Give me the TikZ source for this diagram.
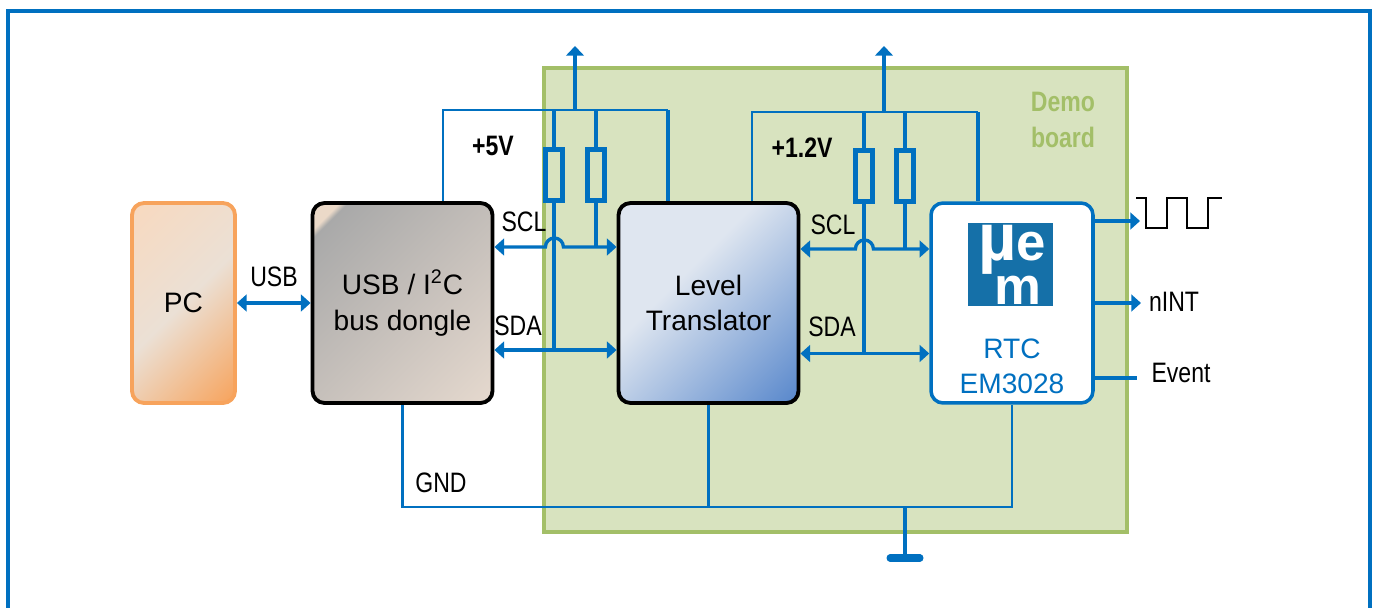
\documentclass[tikz,border=0pt]{standalone}
\usepackage{fontspec}
\setmainfont{Liberation Sans}
\newfontfamily\narrowfont[FakeStretch=0.82]{Liberation Sans}
\usetikzlibrary{arrows.meta, calc}
\definecolor{wireblue}{HTML}{0070C0}
\definecolor{boardfill}{HTML}{D8E3BF}
\definecolor{boardline}{HTML}{A3BF68}
\definecolor{pcline}{HTML}{F7A35C}
\definecolor{pclight}{HTML}{EBE0D5}
\definecolor{pctop}{HTML}{F8D9BF}
\definecolor{donglecorner}{HTML}{EBD9C8}
\definecolor{donglegray}{HTML}{A9A9A9}
\definecolor{donglelight}{HTML}{E8DBD0}
\definecolor{levellight}{HTML}{DFE6F0}
\definecolor{leveldark}{HTML}{4F81C9}
\definecolor{logoblue}{HTML}{1570A8}
\pgfdeclareverticalshading{pcfade}{100bp}{
  color(0bp)=(pcline); color(15bp)=(pcline); color(50bp)=(pclight); color(85bp)=(pctop); color(100bp)=(pctop)}
\pgfdeclareverticalshading{donglefade}{100bp}{
  color(0bp)=(donglelight); color(12bp)=(donglelight); color(79bp)=(donglegray); color(80.5bp)=(donglecorner); color(100bp)=(donglecorner)}
\pgfdeclareverticalshading{levelfade}{100bp}{
  color(0bp)=(leveldark); color(12bp)=(leveldark); color(60bp)=(levellight); color(100bp)=(levellight)}
\tikzset{
  block/.style={
    rectangle, rounded corners=0.24cm, minimum width=3.6cm, minimum height=4cm,
    text centered, align=center, line width=2.2pt, draw=black, font=\fontsize{16}{20}\selectfont
  },
  wire/.style={
    line width=1.9pt, color=wireblue
  },
  railwire/.style={
    line width=1.5pt, color=wireblue
  },
  thinwire/.style={
    line width=1.3pt, color=wireblue
  },
  busarrow/.style={
    {Triangle[length=5.5pt,width=9.5pt]}-{Triangle[length=5.5pt,width=9.5pt]}, line width=1.9pt, color=wireblue
  },
  outarrow/.style={
    -{Triangle[length=5.5pt,width=9.5pt]}, line width=1.9pt, color=wireblue
  },
  resistor/.style={
    rectangle, draw=wireblue, fill=none, line width=2.9pt, minimum width=0.34cm, minimum height=1.02cm, inner sep=0pt
  },
  textlabel/.style={
    font=\narrowfont\fontsize{16}{18}\selectfont, inner sep=0pt
  },
  supply/.style={
    font=\narrowfont\bfseries\fontsize{16}{18}\selectfont, inner sep=0pt
  },
  logoletter/.style={
    font=\bfseries\fontsize{30}{21.5}\selectfont, text=white, inner sep=0pt, align=center
  }
}

\begin{document}
\begin{tikzpicture}[x=0.02cm, y=-0.02cm]
  \useasboundingbox (0,0) rectangle (1375,608);
  \clip (0,0) rectangle (1375,608);

  % Outer frame, open at the bottom edge
  \draw[line width=2.3pt, wireblue] (8,640) -- (8,11) -- (1370,11) -- (1370,640);

  % Demo board
  \node[rectangle, draw=boardline, fill=boardfill, line width=2.2pt, minimum width=11.66cm, minimum height=9.28cm, inner sep=0pt] (board) at (835.5,300) {};
  \node[font=\narrowfont\bfseries\fontsize{16}{20}\selectfont, text=boardline, align=center, inner sep=0pt] (boardlabel) at (1063,120) {Demo\\[0.2pt]board};

  % Main blocks
  \node[block, draw=pcline, minimum width=2.06cm, shading=pcfade, shading angle=45] (pc) at (183.5,303) {PC};
  \node[block, shading=donglefade, shading angle=45] (dongle) at (402.5,303) {USB / I\textsuperscript{2}C\\bus dongle};
  \node[block, shading=levelfade, shading angle=45] (level) at (708.5,303) {Level\\Translator};
  \node[block, draw=wireblue, fill=white, minimum width=3.24cm, line width=2pt] (rtc) at (1012,303) {};

  % Logo and name inside the RTC block
  \node[rectangle, fill=logoblue, minimum width=1.7cm, minimum height=1.66cm, inner sep=0pt] (logo) at (1010.5,264.5) {};
  \node[logoletter] (logotext) at (1012,265) {{\fontsize{38}{21.5}\selectfont µ}e\\\hspace*{7pt}m};
  \node[font=\fontsize{16}{20}\selectfont, text=wireblue, align=center, inner sep=0pt] (rtclabel) at (1012,366) {RTC\\EM3028};

  % Named points of the two supply rails
  \coordinate (railfivel) at (443,110);
  \coordinate (railfiver) at (668,110);
  \coordinate (railfivem) at (575,110);
  \coordinate (arrowfive) at (575,46);
  \coordinate (railonel) at (752,112);
  \coordinate (railoner) at (978,112);
  \coordinate (railonem) at (884,112);
  \coordinate (arrowone) at (884,46);

  % Pull-up resistors
  \node[resistor] (rsda) at (554,175) {};
  \node[resistor] (rscl) at (596,175) {};
  \node[resistor] (rsdb) at (864,176) {};
  \node[resistor] (rscm) at (905,176) {};

  % +5V rail
  \draw[railwire] (dongle.north -| railfivel) -- (railfivel) -- (railfiver);
  \draw[wire] (railfiver) -- (level.north -| railfiver);
  \draw[-{Triangle[length=5.5pt,width=10pt]}, wire] (railfivem) -- (arrowfive);
  \draw[wire] (railfivem -| rsda) -- (rsda.north);
  \draw[wire] (railfivem -| rscl) -- (rscl.north);

  % +1.2V rail
  \draw[railwire] (level.north -| railonel) -- (railonel) -- (railoner);
  \draw[wire] (railoner) -- (rtc.north -| railoner);
  \draw[-{Triangle[length=5.5pt,width=10pt]}, wire] (railonem) -- (arrowone);
  \draw[wire] (railonem -| rsdb) -- (rsdb.north);
  \draw[wire] (railonem -| rscm) -- (rscm.north);

  % Left I2C bus
  \coordinate (sclleft) at (554,247);
  \coordinate (sdaleft) at (554,350);
  \draw[busarrow] (dongle.east |- sclleft) -- ++(51,0) arc[start angle=180, end angle=360, radius=9] -- (level.west |- sclleft);
  \draw[busarrow] (dongle.east |- sdaleft) -- (level.west |- sdaleft);
  \draw[wire] (rsda.south) -- (sdaleft);
  \draw[wire] (rscl.south) -- (rscl.south |- sclleft);

  % Right I2C bus
  \coordinate (sclright) at (864,249);
  \coordinate (sdaright) at (864,353.5);
  \draw[busarrow] (level.east |- sclright) -- ++(55,0) arc[start angle=180, end angle=360, radius=9] -- (rtc.west |- sclright);
  \draw[busarrow] (level.east |- sdaright) -- (rtc.west |- sdaright);
  \draw[wire] (rsdb.south) -- (sdaright);
  \draw[wire] (rscm.south) -- (rscm.south |- sclright);

  % USB link
  \draw[busarrow] (pc) -- (dongle);

  % RTC outputs
  \coordinate (clkout) at (1140,221);
  \coordinate (nintout) at (1141,303);
  \coordinate (eventout) at (1137,378);
  \draw[outarrow] (rtc.east |- clkout) -- (clkout);
  \draw[outarrow] (rtc.east |- nintout) -- (nintout);
  \draw[wire] (rtc.east |- eventout) -- (eventout);

  % Square wave
  \draw[line width=1.2pt, black] (1136,198) -- (1146,198) -- (1146,228) -- (1167,228) -- (1167,198) -- (1187,198) -- (1187,228) -- (1208,228) -- (1208,198) -- (1222,198);

  % Ground
  \coordinate (gndleft) at (402.5,507);
  \coordinate (gndright) at (1012,507);
  \coordinate (gndtap) at (905,507);
  \coordinate (gndbar) at (905,558);
  \draw[thinwire] (dongle.south -| gndleft) -- (gndleft) -- (gndright) -- (rtc.south -| gndright);
  \draw[wire] (level.south) -- (level.south |- gndleft);
  \draw[wire] (gndtap) -- (gndbar);
  \draw[line width=4pt, wireblue, line cap=round] ($(gndbar)+(-15,0)$) -- ($(gndbar)+(15,0)$);

  % Labels
  \node[textlabel] (usblabel) at (274,277) {USB};
  \node[textlabel] (scll) at (524,222) {SCL};
  \node[textlabel] (sdal) at (518,326) {SDA};
  \node[textlabel] (sclr) at (833,225) {SCL};
  \node[textlabel] (sdar) at (832,327) {SDA};
  \node[textlabel] (nint) at (1174,302) {nINT};
  \node[textlabel] (event) at (1181,373) {Event};
  \node[textlabel] (gnd) at (441,483) {GND};
  \node[supply] (fivev) at (493,146) {+5V};
  \node[supply] (onev) at (802,148) {+1.2V};
\end{tikzpicture}
\end{document}
